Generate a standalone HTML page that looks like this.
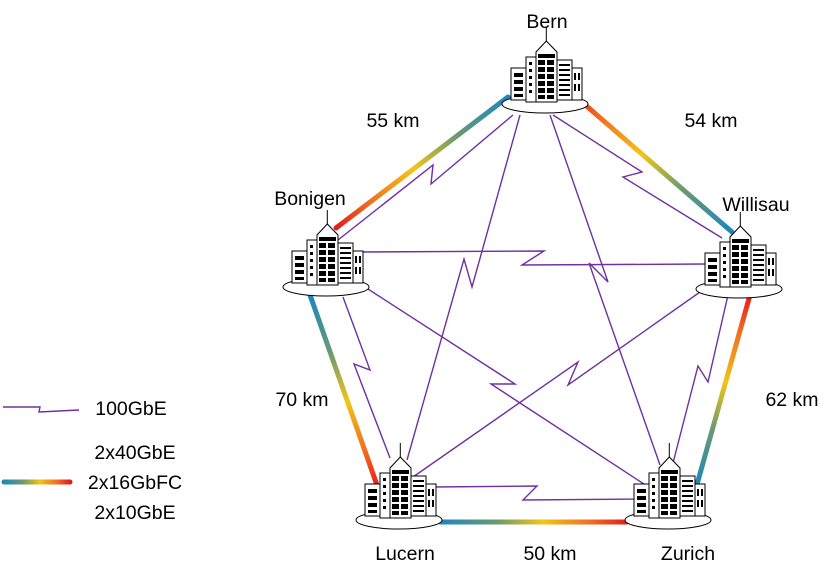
<!DOCTYPE html>
<html><head><meta charset="utf-8"><style>
html,body{margin:0;padding:0;background:#fff;}
svg{display:block;font-family:"Liberation Sans",sans-serif;}
</style></head><body>
<svg width="835" height="582" viewBox="0 0 835 582">
<defs>
<symbol id="bld" overflow="visible">
 <ellipse cx="0" cy="77" rx="43" ry="9" fill="#fff" stroke="#000" stroke-width="1"/>
 <rect x="-34" y="41" width="15" height="32" fill="#fff" stroke="#000"/>
 <rect x="27" y="41" width="10" height="32" fill="#fff" stroke="#000"/>
 <rect x="12" y="33" width="15" height="40" fill="#fff" stroke="#000"/>
 <rect x="-19" y="30" width="10" height="45" fill="#fff" stroke="#000"/>
 <path d="M-9,75 V25 L1.3,14 L12,25 V75 Z" fill="#fff" stroke="#000"/>
 <line x1="1.3" y1="0" x2="1.3" y2="14" stroke="#000"/>
 <g fill="#000">
  <rect x="-7" y="27" width="17" height="4"/>
  <rect x="-7" y="33" width="7" height="5"/><rect x="2" y="33" width="7" height="5"/>
  <rect x="-7" y="40" width="7" height="5"/><rect x="2" y="40" width="7" height="5"/>
  <rect x="-7" y="47" width="7" height="5"/><rect x="2" y="47" width="7" height="5"/>
  <rect x="-7" y="54" width="7" height="5"/><rect x="2" y="54" width="7" height="5"/>
  <rect x="-7" y="61" width="7" height="5"/><rect x="2" y="61" width="7" height="5"/>
  <rect x="-7" y="68" width="7" height="4"/><rect x="2" y="68" width="7" height="4"/>
  <rect x="-16" y="35" width="3" height="3"/><rect x="-16" y="42" width="3" height="3"/>
  <rect x="-16" y="49" width="3" height="3"/><rect x="-16" y="56" width="3" height="3"/>
  <rect x="-16" y="63" width="3" height="3"/>
  <rect x="-31" y="46" width="9" height="4"/><rect x="-31" y="53" width="9" height="4"/>
  <rect x="-31" y="60" width="9" height="4"/><rect x="-31" y="67" width="9" height="3"/>
  <rect x="14" y="37" width="11" height="2"/><rect x="14" y="42" width="11" height="2"/>
  <rect x="14" y="47" width="11" height="2"/><rect x="14" y="52" width="11" height="2"/>
  <rect x="14" y="57" width="11" height="2"/><rect x="14" y="62" width="11" height="2"/>
  <rect x="14" y="67" width="11" height="2"/>
  <rect x="29" y="46" width="2" height="7"/><rect x="33" y="46" width="2" height="7"/>
  <rect x="29" y="57" width="2" height="7"/><rect x="33" y="57" width="2" height="7"/>
 </g>
</symbol>
<linearGradient id="g1" gradientUnits="userSpaceOnUse" x1="508" y1="97" x2="336" y2="228"><stop offset="0" stop-color="#1a86c0"/><stop offset="0.3" stop-color="#6a9a70"/><stop offset="0.55" stop-color="#f2c418"/><stop offset="0.8" stop-color="#f07020"/><stop offset="1" stop-color="#e41c1c"/></linearGradient>
<linearGradient id="g2" gradientUnits="userSpaceOnUse" x1="732" y1="232" x2="568" y2="90"><stop offset="0" stop-color="#1a86c0"/><stop offset="0.3" stop-color="#6a9a70"/><stop offset="0.55" stop-color="#f2c418"/><stop offset="0.8" stop-color="#f07020"/><stop offset="1" stop-color="#e41c1c"/></linearGradient>
<linearGradient id="g3" gradientUnits="userSpaceOnUse" x1="310" y1="295" x2="378" y2="488"><stop offset="0" stop-color="#1a86c0"/><stop offset="0.3" stop-color="#6a9a70"/><stop offset="0.55" stop-color="#f2c418"/><stop offset="0.8" stop-color="#f07020"/><stop offset="1" stop-color="#e41c1c"/></linearGradient>
<linearGradient id="g4" gradientUnits="userSpaceOnUse" x1="696" y1="488" x2="750" y2="295"><stop offset="0" stop-color="#1a86c0"/><stop offset="0.3" stop-color="#6a9a70"/><stop offset="0.55" stop-color="#f2c418"/><stop offset="0.8" stop-color="#f07020"/><stop offset="1" stop-color="#e41c1c"/></linearGradient>
<linearGradient id="g5" gradientUnits="userSpaceOnUse" x1="440" y1="522" x2="627" y2="522"><stop offset="0" stop-color="#1a86c0"/><stop offset="0.3" stop-color="#6a9a70"/><stop offset="0.55" stop-color="#f2c418"/><stop offset="0.8" stop-color="#f07020"/><stop offset="1" stop-color="#e41c1c"/></linearGradient>
<linearGradient id="gl" gradientUnits="userSpaceOnUse" x1="3" y1="482" x2="70" y2="482"><stop offset="0" stop-color="#1a86c0"/><stop offset="0.3" stop-color="#6a9a70"/><stop offset="0.55" stop-color="#f2c418"/><stop offset="0.8" stop-color="#f07020"/><stop offset="1" stop-color="#e41c1c"/></linearGradient>
</defs>

<g stroke-width="5" stroke-linecap="round" fill="none">
<line x1="508" y1="97" x2="336" y2="228" stroke="url(#g1)"/>
<line x1="568" y1="90" x2="732" y2="232" stroke="url(#g2)"/>
<line x1="310" y1="295" x2="378" y2="488" stroke="url(#g3)"/>
<line x1="750" y1="295" x2="696" y2="488" stroke="url(#g4)"/>
<line x1="440" y1="522" x2="627" y2="522" stroke="url(#g5)"/>
</g>

<g stroke="#7030a0" stroke-width="1.4" fill="none">
<polyline points="338,240 433,165 431,184 513,115"/>
<polyline points="520,115 472,287 464,259 407,460"/>
<polyline points="550,115 608,282 589,263 660,465"/>
<polyline points="553,115 642,172 623,177 722,238"/>
<polyline points="360,252 544,251 522,265 707,264"/>
<polyline points="343,297 370,370 354,364 390,458"/>
<polyline points="368,289 515,384 491,384 650,488"/>
<polyline points="700,292 568,385 578,362 413,477"/>
<polyline points="728,295 708,382 698,366 673,463"/>
<polyline points="432,487 537,486 523,500 648,499"/>
<polyline points="3,407 40,407 39,412 79,410"/>
</g>
<line x1="4" y1="482" x2="70" y2="482" stroke="url(#gl)" stroke-width="5" stroke-linecap="round"/>

<use href="#bld" x="545" y="27"/>
<use href="#bld" x="326" y="210"/>
<use href="#bld" x="739" y="212"/>
<use href="#bld" x="399" y="443"/>
<use href="#bld" x="668" y="443"/>

<g font-size="19.5" fill="#000" text-anchor="middle">
<text x="547" y="28">Bern</text>
<text x="310" y="205">Bonigen</text>
<text x="756" y="211">Willisau</text>
<text x="405" y="560">Lucern</text>
<text x="688" y="560">Zurich</text>
<text x="393" y="127">55 km</text>
<text x="711" y="127">54 km</text>
<text x="302" y="406">70 km</text>
<text x="792" y="406">62 km</text>
<text x="550" y="560">50 km</text>
<text x="131" y="415">100GbE</text>
<text x="135" y="459">2x40GbE</text>
<text x="135" y="489">2x16GbFC</text>
<text x="135" y="519">2x10GbE</text>
</g>
</svg>
</body></html>
